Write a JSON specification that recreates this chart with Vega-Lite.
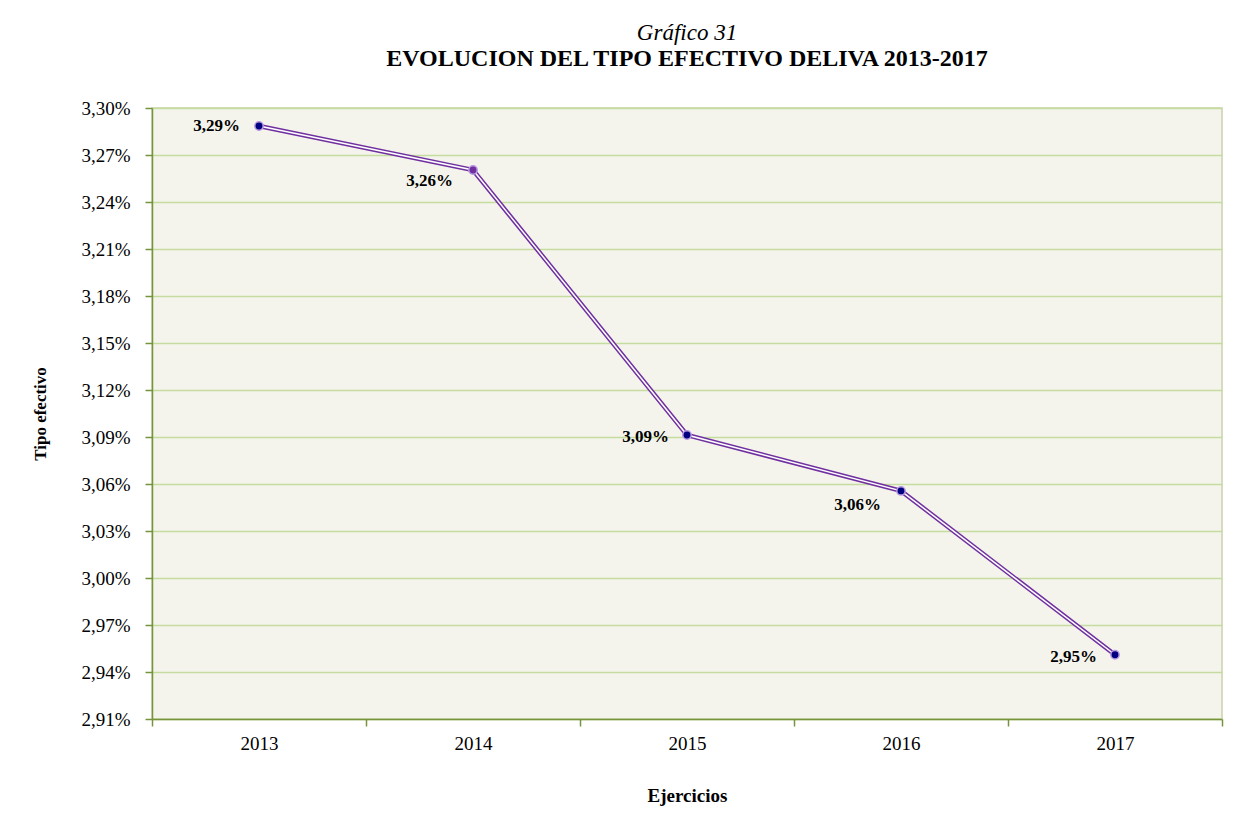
{
  "$schema": "https://vega.github.io/schema/vega-lite/v6.json",
  "width": 1070,
  "height": 611,
  "padding": {"left": 31, "top": 22, "right": 22, "bottom": 10},
  "background": "white",
  "config": {
    "font": "Liberation Serif",
    "view": {"fill": "#F4F4EC", "stroke": "#C9D3A8", "strokeWidth": 1.5}
  },
  "title": {
    "text": "Gráfico 31",
    "subtitle": "EVOLUCION DEL TIPO EFECTIVO DELIVA 2013-2017",
    "font": "Liberation Serif",
    "fontSize": 23,
    "fontStyle": "italic",
    "fontWeight": "normal",
    "color": "#000000",
    "subtitleFont": "Liberation Serif",
    "subtitleFontSize": 24,
    "subtitleFontWeight": "bold",
    "subtitleColor": "#000000",
    "subtitlePadding": 2,
    "anchor": "middle",
    "offset": 28
  },
  "data": {
    "values": [
      {"year": "2013", "value": 3.2885, "label": "3,29%"},
      {"year": "2014", "value": 3.2604, "label": "3,26%"},
      {"year": "2015", "value": 3.0913, "label": "3,09%"},
      {"year": "2016", "value": 3.0556, "label": "3,06%"},
      {"year": "2017", "value": 2.951, "label": "2,95%"}
    ]
  },
  "encoding": {
    "x": {
      "field": "year",
      "type": "ordinal",
      "bandPosition": 0.5,
      "scale": {"type": "band", "paddingInner": 0, "paddingOuter": 0},
      "axis": {
        "title": "Ejercicios",
        "titleFont": "Liberation Serif",
        "titleFontSize": 19,
        "titleFontWeight": "bold",
        "titleColor": "#000000",
        "titlePadding": 33,
        "labelAngle": 0,
        "labelFont": "Liberation Serif",
        "labelFontSize": 19,
        "labelColor": "#000000",
        "labelPadding": 8,
        "tickBand": "extent",
        "tickSize": 7,
        "tickColor": "#77933C",
        "tickWidth": 1.5,
        "domainColor": "#77933C",
        "domainWidth": 1.5,
        "grid": false
      }
    },
    "y": {
      "field": "value",
      "type": "quantitative",
      "scale": {"domain": [2.91, 3.30], "zero": false, "nice": false},
      "axis": {
        "title": "Tipo efectivo",
        "titleFont": "Liberation Serif",
        "titleFontSize": 17,
        "titleFontWeight": "bold",
        "titleColor": "#000000",
        "titlePadding": 31,
        "values": [2.91, 2.94, 2.97, 3.00, 3.03, 3.06, 3.09, 3.12, 3.15, 3.18, 3.21, 3.24, 3.27, 3.30],
        "labelExpr": "replace(format(datum.value, '.2f'), '.', ',') + '%'",
        "labelFont": "Liberation Serif",
        "labelFontSize": 19,
        "labelColor": "#000000",
        "labelPadding": 15,
        "tickSize": 7,
        "tickColor": "#77933C",
        "tickWidth": 1.5,
        "domainColor": "#77933C",
        "domainWidth": 1.5,
        "gridColor": "#C5DCA0",
        "gridWidth": 1.5
      }
    }
  },
  "layer": [
    {"mark": {"type": "line", "color": "#7030A0", "strokeWidth": 4.5}},
    {"mark": {"type": "line", "color": "#FFFFFF", "strokeWidth": 1.5}},
    {
      "mark": {"type": "point", "filled": true, "size": 70, "stroke": "#B89AE0", "strokeWidth": 1.5, "opacity": 1},
      "encoding": {
        "fill": {
          "condition": {"test": "datum.year == '2014'", "value": "#7030A0"},
          "value": "#000080"
        }
      }
    },
    {
      "transform": [{"filter": "datum.year == '2013'"}],
      "mark": {"type": "text", "align": "right", "baseline": "middle", "dx": -19, "dy": 0, "fontSize": 17, "fontWeight": "bold", "font": "Liberation Serif", "color": "#000000"},
      "encoding": {"text": {"field": "label"}}
    },
    {
      "transform": [{"filter": "datum.year == '2015' || datum.year == '2017'"}],
      "mark": {"type": "text", "align": "right", "baseline": "middle", "dx": -18, "dy": 2, "fontSize": 17, "fontWeight": "bold", "font": "Liberation Serif", "color": "#000000"},
      "encoding": {"text": {"field": "label"}}
    },
    {
      "transform": [{"filter": "datum.year == '2014'"}],
      "mark": {"type": "text", "align": "right", "baseline": "middle", "dx": -20, "dy": 11, "fontSize": 17, "fontWeight": "bold", "font": "Liberation Serif", "color": "#000000"},
      "encoding": {"text": {"field": "label"}}
    },
    {
      "transform": [{"filter": "datum.year == '2016'"}],
      "mark": {"type": "text", "align": "right", "baseline": "middle", "dx": -20, "dy": 14, "fontSize": 17, "fontWeight": "bold", "font": "Liberation Serif", "color": "#000000"},
      "encoding": {"text": {"field": "label"}}
    }
  ]
}
